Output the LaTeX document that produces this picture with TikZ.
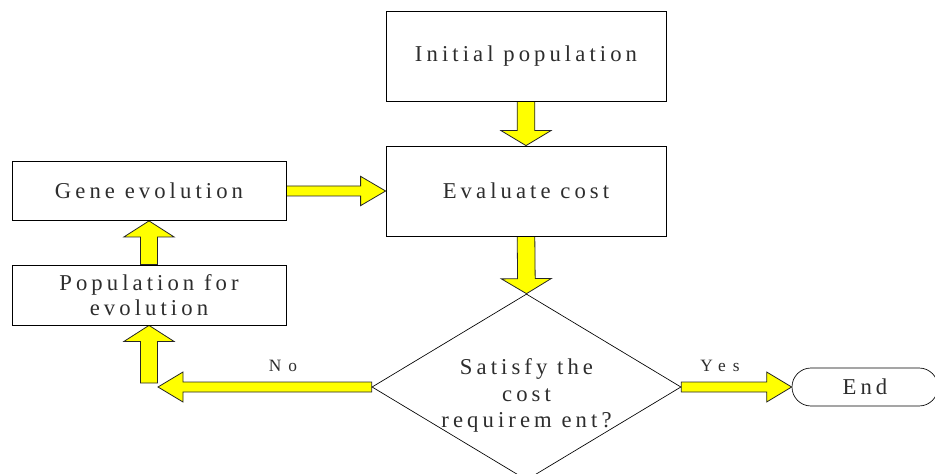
\documentclass[tikz,border=0pt]{standalone}
\usepackage{fontspec}
\setmainfont{Liberation Serif}
\newfontfamily\widefont[LetterSpace=18]{Liberation Serif}
\newfontfamily\smallwide[LetterSpace=40]{Liberation Serif}
\usepackage{tikz}
\usetikzlibrary{calc,shapes.geometric}
\pgfdeclarelayer{edgelayer}
\pgfdeclarelayer{nodelayer}
\pgfsetlayers{edgelayer,nodelayer,main}
\definecolor{flowyellow}{RGB}{255,255,0}
\definecolor{inkgray}{RGB}{45,45,45}
\tikzstyle{box}=[rectangle, draw=black, fill=white, line width=0.6pt, text=inkgray, align=center, inner sep=0pt, font=\widefont\fontsize{17}{19}\selectfont]
\tikzstyle{decision}=[diamond, aspect=1.66, draw=black, fill=white, line width=0.5pt, text=inkgray, inner sep=0pt, font=\widefont\fontsize{17}{20}\selectfont]
\tikzstyle{terminal}=[rectangle, rounded corners=14.25pt, draw=black, fill=white, line width=0.5pt, text=inkgray, inner sep=0pt, font=\widefont\fontsize{17}{19}\selectfont]
\tikzstyle{answer}=[text=inkgray, inner sep=0pt, font=\smallwide\fontsize{13}{15}\selectfont]
\tikzstyle{flow}=[draw=black!85, fill=flowyellow, line width=0.6pt, line join=miter]
% block arrow: from, to, half shaft, half head, head length
\newcommand{\fatarrow}[5]{%
  \coordinate (h) at ($(#2)!#5!(#1)$);
  \draw [style=flow] ($(#1)!#3!-90:(#2)$) -- ($(h)!#3!90:(#1)$) -- ($(h)!#4!90:(#1)$)
    -- (#2) -- ($(h)!#4!-90:(#1)$) -- ($(h)!#3!-90:(#1)$) -- ($(#1)!#3!90:(#2)$) -- cycle;
}

\begin{document}
\begin{tikzpicture}[x=0.75pt, y=-0.75pt]
			\useasboundingbox (0,0) rectangle (935,474);
			\begin{pgfonlayer}{nodelayer}
			\node [style=box, minimum width=210pt, minimum height=67.5pt] (1) at (526, 56) {Initial population};
			\node [style=box, minimum width=210pt, minimum height=67.5pt] (2) at (526, 191) {Evaluate cost};
			\node [style=box, minimum width=205.5pt, minimum height=44.25pt] (3) at (149, 191) {Gene evolution};
			\node [style=box, minimum width=205.5pt, minimum height=45pt] (4) at (149, 295) {Population for\\evolution};
			\node [style=decision, minimum width=231.75pt, minimum height=139.5pt] (5) at (526.5, 387)
				{\raisebox{-11pt}[0pt][0pt]{\begin{tabular}{@{}c@{}}Satisfy the\\cost\\requirem ent?\end{tabular}}};
			\node [style=terminal, minimum width=109.5pt, minimum height=28.5pt] (6) at (865, 387) {End};
			\node [style=answer] (9) at (283, 366) {No};
			\node [style=answer] (10) at (720, 366) {Yes};
			\coordinate (7) at (149, 383);
			\coordinate (8) at (158, 387);
			\end{pgfonlayer}
			\begin{pgfonlayer}{edgelayer}
			\fatarrow{1.south}{2.north}{6.6pt}{18.75pt}{11.25pt}
			\fatarrow{2.south}{5.north}{6.6pt}{18.75pt}{11.25pt}
			\fatarrow{3.east}{2.west}{3.75pt}{11pt}{18.75pt}
			\fatarrow{4.north}{3.south}{6.4pt}{18.75pt}{12pt}
			\fatarrow{7}{4.south}{6.4pt}{18.75pt}{12pt}
			\fatarrow{5.west}{8}{3.75pt}{11.25pt}{18.75pt}
			\fatarrow{5.east}{6.west}{3.75pt}{11.25pt}{18.75pt}
			\end{pgfonlayer}
\end{tikzpicture}
\end{document}
